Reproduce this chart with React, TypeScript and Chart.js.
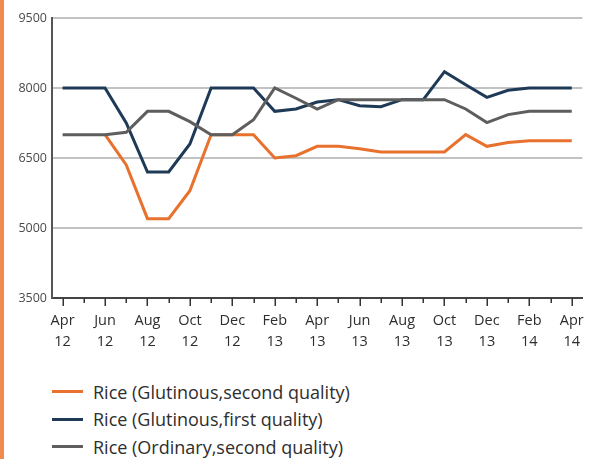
import React, { useEffect, useRef } from "react";
import { Chart, registerables } from "chart.js";

Chart.register(...registerables);

const months = [
  "Apr 12", "May 12", "Jun 12", "Jul 12", "Aug 12", "Sep 12", "Oct 12", "Nov 12", "Dec 12",
  "Jan 13", "Feb 13", "Mar 13", "Apr 13", "May 13", "Jun 13", "Jul 13", "Aug 13", "Sep 13",
  "Oct 13", "Nov 13", "Dec 13", "Jan 14", "Feb 14", "Mar 14", "Apr 14",
];

const glutinousSecond = [
  null, null, 7000, 6350, 5200, 5200, 5800, 7000, 7000, 7000, 6500, 6550, 6750,
  6750, 6700, 6630, 6630, 6630, 6630, 7000, 6750, 6830, 6870, 6870, 6870,
];
const glutinousFirst = [
  8000, 8000, 8000, 7250, 6200, 6200, 6800, 8000, 8000, 8000, 7500, 7550, 7700,
  7750, 7620, 7600, 7750, 7750, 8350, 8070, 7800, 7950, 8000, 8000, 8000,
];
const ordinarySecond = [
  7000, 7000, 7000, 7050, 7500, 7500, 7280, 7000, 7000, 7320, 8000, 7780, 7550,
  7750, 7750, 7750, 7750, 7750, 7750, 7550, 7260, 7430, 7500, 7500, 7500,
];

const seriesNames = [
  "Rice (Glutinous,second quality)",
  "Rice (Glutinous,first quality)",
  "Rice (Ordinary,second quality)",
];
const seriesColors = ["#e8722d", "#1e3a57", "#5e5e5e"];
const seriesData = [glutinousSecond, glutinousFirst, ordinarySecond];

const yMin = 3500;
const yMax = 9500;
const yStep = 1500;

const FONT = "'Open Sans', 'Liberation Sans', sans-serif";

const tickMarks = {
  id: "tickMarks",
  afterDraw(chart: any) {
    const scale = chart.scales.x;
    const ctx = chart.ctx;
    ctx.save();
    ctx.strokeStyle = "#333333";
    ctx.lineWidth = 1.5;
    months.forEach((_, i) => {
      const x = Math.round(scale.getPixelForValue(i)) + 0.25;
      const len = i % 2 === 0 ? 8 : 5;
      ctx.beginPath();
      ctx.moveTo(x, scale.top);
      ctx.lineTo(x, scale.top + len);
      ctx.stroke();
    });
    ctx.restore();
  },
};

export default function App() {
  const ref = useRef<HTMLCanvasElement | null>(null);

  useEffect(() => {
    if (!ref.current) return;
    const chart = new Chart(ref.current, {
      type: "line",
      data: {
        labels: months,
        datasets: seriesData.map((d, i) => ({
          label: seriesNames[i],
          data: d,
          borderColor: seriesColors[i],
          backgroundColor: seriesColors[i],
          borderWidth: 3,
          pointRadius: 0,
          tension: 0,
          spanGaps: false,
          order: 3 - i,
        })),
      },
      options: {
        animation: false,
        responsive: false,
        maintainAspectRatio: false,
        layout: { padding: { top: 18, right: 13, left: 0, bottom: 0 } },
        plugins: { legend: { display: false }, tooltip: { enabled: false } },
        scales: {
          x: {
            type: "category",
            offset: true,
            grid: { display: false, drawTicks: false },
            border: { display: true, color: "#444444", width: 2 },
            ticks: {
              autoSkip: false,
              maxRotation: 0,
              minRotation: 0,
              padding: 12,
              color: "#2e2e2e",
              font: { family: FONT, size: 14.5, lineHeight: 1.45 },
              callback: (_v: any, i: number) => (i % 2 === 0 ? months[i].split(" ") : ""),
            },
            afterFit: (s: any) => {
              s.height = 64;
            },
          },
          y: {
            min: yMin,
            max: yMax,
            grid: { color: "#c2c2c2", lineWidth: 2, drawTicks: false },
            border: { display: true, color: "#555555", width: 2 },
            ticks: {
              stepSize: yStep,
              padding: 5,
              color: "#4a4a4a",
              font: { family: FONT, size: 12.5 },
              callback: (v: any) => String(v),
            },
            afterFit: (s: any) => {
              s.width = 52;
            },
          },
        },
      },
      plugins: [tickMarks],
    });
    return () => chart.destroy();
  }, []);

  return (
    <div style={{ position: "absolute", left: 0, top: 0, width: 596, height: 459, background: "#fff", overflow: "hidden" }}>
      <div style={{ position: "absolute", left: 0, top: 0, width: 4, height: 459, background: "#f08a4e" }} />
      <canvas ref={ref} width={596} height={362} style={{ position: "absolute", left: 0, top: 0 }} />
      <div style={{ position: "absolute", left: 52, top: 378, fontFamily: FONT, fontSize: 18, color: "#2e2e2e" }}>
        {seriesNames.map((n, i) => (
          <div key={n} style={{ display: "flex", alignItems: "center", height: 27.5 }}>
            <span style={{ display: "inline-block", width: 31, height: 3, background: seriesColors[i], marginRight: 10 }} />
            <span>{n}</span>
          </div>
        ))}
      </div>
    </div>
  );
}
